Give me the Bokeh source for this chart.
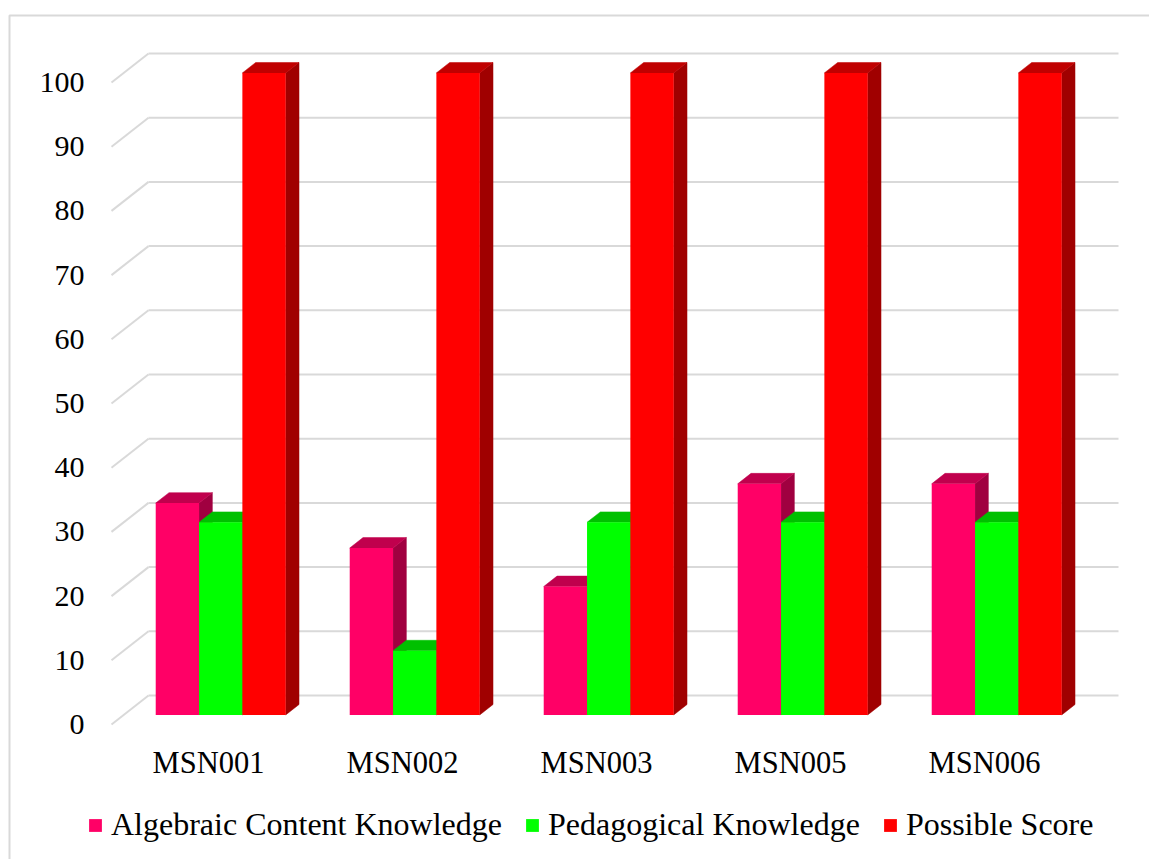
from bokeh.plotting import figure
from bokeh.models import Range1d, Legend, LegendItem, ColumnDataSource
from bokeh.embed import file_html
from bokeh.resources import INLINE
from bokeh.core.properties import value

# ---------------- data ----------------
categories = ["MSN001", "MSN002", "MSN003", "MSN005", "MSN006"]
algebraic = [33, 26, 20, 36, 36]
pedagogical = [30, 10, 30, 30, 30]
possible = [100, 100, 100, 100, 100]
series_names = ["Algebraic Content Knowledge", "Pedagogical Knowledge", "Possible Score"]
y_ticks = [0, 10, 20, 30, 40, 50, 60, 70, 80, 90, 100]
y_tick_labels = [str(t) for t in y_ticks]

# ---------------- style / layout ----------------
front_colors = ["#FF0066", "#00FF00", "#FF0000"]
top_colors = ["#C0004D", "#00C000", "#C00000"]
side_colors = ["#A00040", "#00A000", "#A00000"]
GRID_COLOR = "#D9D9D9"
FONT = "Liberation Serif"

W, H = 1149, 859
WALL_LEFT, WALL_RIGHT = 148, 1118      # back wall, px
WALL_ZERO = 695                        # back wall value 0, px from top
PX_PER_UNIT = 6.42                     # px per score unit
N = len(categories)
CAT_PX = (WALL_RIGHT - WALL_LEFT) / N
DEPTH_PX = (-37.0, 29.0)               # full floor depth projection (px)
F_FRONT, F_BACK = 0.67, 0.31           # bar depth fractions
GAP = 0.165                            # gap at each side of a group (category units)
BAR_W = (1 - 2 * GAP) / 3

ddx = DEPTH_PX[0] / CAT_PX
ddy = -DEPTH_PX[1] / PX_PER_UNIT


def px_x(px):
    return (px - WALL_LEFT) / CAT_PX


def px_y(py):
    return (WALL_ZERO - py) / PX_PER_UNIT


p = figure(width=W, height=H,
           x_range=Range1d(px_x(0), px_x(W)), y_range=Range1d(px_y(H), px_y(0)),
           x_axis_type=None, y_axis_type=None,
           output_backend="svg", toolbar_location=None, min_border=0,
           outline_line_color=None, background_fill_color="white",
           border_fill_color="white")

# outer chart border (left and top visible)
p.quad(left=[px_x(9)], right=[px_x(W + 20)], top=[px_y(15)], bottom=[px_y(H + 20)],
       fill_alpha=0, line_color=GRID_COLOR, line_width=2)

# back wall gridlines + perspective side lines
p.segment(x0=[0] * len(y_ticks), x1=[N] * len(y_ticks), y0=y_ticks, y1=y_ticks,
          line_color=GRID_COLOR, line_width=2)
p.segment(x0=[0] * len(y_ticks), x1=[ddx] * len(y_ticks), y0=y_ticks,
          y1=[t + ddy for t in y_ticks], line_color=GRID_COLOR, line_width=2)

# y tick labels at the front plane
p.text(x=[px_x(84)] * len(y_ticks), y=[t + ddy for t in y_ticks], text=y_tick_labels,
       text_font=value(FONT), text_font_size="30px", text_color="#000000",
       text_align="right", text_baseline="middle")

# category labels
p.text(x=[i + 0.5 + ddx for i in range(N)], y=[ddy - 38 / PX_PER_UNIT] * N, text=categories,
       text_font=value(FONT), text_font_size="30.5px", text_color="#000000",
       text_align="center", text_baseline="middle")

fdx, fdy = F_FRONT * ddx, F_FRONT * ddy
bdx, bdy = F_BACK * ddx, F_BACK * ddy

front_renderers = []
for s, vals in enumerate([algebraic, pedagogical, possible]):
    lefts = [i + GAP + s * BAR_W for i in range(N)]
    rights = [l + BAR_W for l in lefts]
    # side faces
    side_xs = [[r + fdx, r + fdx, r + bdx, r + bdx] for r in rights]
    side_ys = [[fdy, v + fdy, v + bdy, bdy] for v in vals]
    p.patches(xs=side_xs, ys=side_ys, fill_color=side_colors[s], line_color=side_colors[s],
              line_width=0.5)
    # top faces
    top_xs = [[l + fdx, r + fdx, r + bdx, l + bdx] for l, r in zip(lefts, rights)]
    top_ys = [[v + fdy, v + fdy, v + bdy, v + bdy] for v in vals]
    p.patches(xs=top_xs, ys=top_ys, fill_color=top_colors[s], line_color=top_colors[s],
              line_width=0.5)
    # front faces
    src = ColumnDataSource(dict(left=[l + fdx for l in lefts], right=[r + fdx for r in rights],
                                bottom=[fdy] * N, top=[v + fdy for v in vals]))
    r = p.quad(left="left", right="right", bottom="bottom", top="top", source=src,
               fill_color=front_colors[s], line_color=None)
    front_renderers.append(r)

legend = Legend(items=[LegendItem(label=n, renderers=[r]) for n, r in zip(series_names, front_renderers)],
                orientation="horizontal", location=(87, 16),
                glyph_width=16, glyph_height=16, label_standoff=8, spacing=22,
                padding=0, margin=0, border_line_color=None, background_fill_alpha=0,
                label_text_font=FONT, label_text_font_size="32px", label_text_color="#000000")
p.add_layout(legend)

open("out.html", "w").write(file_html(p, INLINE))
